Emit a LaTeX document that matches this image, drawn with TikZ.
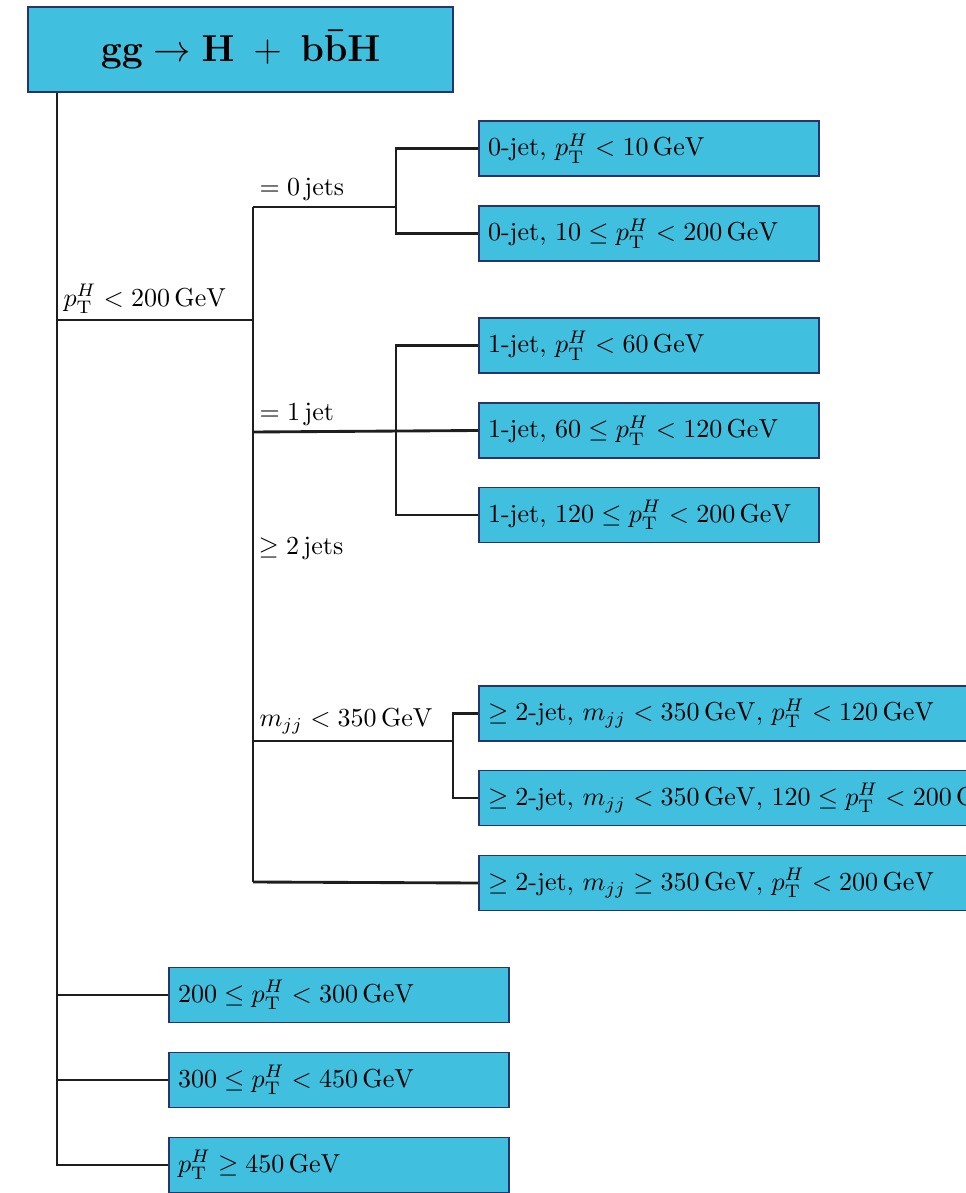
\documentclass[tikz,border=0pt]{standalone}
\usepackage{amsmath}
\usepackage{tikz}
\definecolor{catfill}{RGB}{64,192,222}
\definecolor{catline}{RGB}{40,52,112}
\definecolor{treeline}{HTML}{1E1E1E}

\tikzset{
  catbox/.style={draw=catline, fill=catfill, line width=0.7pt, anchor=west,
    minimum height=0.744cm, inner xsep=3.5pt, text width=4.6cm-7pt, align=left},
  widebox/.style={catbox, text width=9cm-7pt},
  cut/.style={font=\normalsize, inner sep=2pt},
  branch/.style={draw=treeline, line width=1.1pt}
}

\begin{document}
\begin{tikzpicture}[x=0.01352cm, y=-0.01352cm]
\useasboundingbox (0,0) rectangle (965,1193);

% root
\node[catbox, text width=5.75cm-7pt, minimum height=1.15cm, align=center] (root) at (27,49.5)
  {\Large$\mathbf{gg\rightarrow H\;+\;b\bar{b}H}$};

% junctions
\coordinate (j0) at (57,320);
\coordinate (j1) at (253,320);
\coordinate (z0) at (253,207);
\coordinate (z1) at (253,432);
\coordinate (z2) at (253,741);
\coordinate (z3) at (253,882);
\coordinate (s0) at (396,207);
\coordinate (s1) at (396,432);
\coordinate (s2) at (453,741);

% categories
\node[catbox] (b00) at (478,148.5) {0-jet$,\, p_{\mathrm{T}}^{H}<10\,\mathrm{GeV}$};
\node[catbox] (b01) at (478,233.5) {0-jet$,\, 10\leq p_{\mathrm{T}}^{H}<200\,\mathrm{GeV}$};
\node[catbox] (b10) at (478,345.5) {1-jet$,\, p_{\mathrm{T}}^{H}<60\,\mathrm{GeV}$};
\node[catbox] (b11) at (478,430.5) {1-jet$,\, 60\leq p_{\mathrm{T}}^{H}<120\,\mathrm{GeV}$};
\node[catbox] (b12) at (478,515) {1-jet$,\, 120\leq p_{\mathrm{T}}^{H}<200\,\mathrm{GeV}$};
\node[widebox] (b20) at (478,713.5) {$\geq 2$-jet$,\, m_{jj}<350\,\mathrm{GeV},\, p_{\mathrm{T}}^{H}<120\,\mathrm{GeV}$};
\node[widebox] (b21) at (478,798) {$\geq 2$-jet$,\, m_{jj}<350\,\mathrm{GeV},\, 120\leq p_{\mathrm{T}}^{H}<200\,\mathrm{GeV}$};
\node[widebox] (b22) at (478,883) {$\geq 2$-jet$,\, m_{jj}\geq 350\,\mathrm{GeV},\, p_{\mathrm{T}}^{H}<200\,\mathrm{GeV}$};
\node[catbox] (h1) at (168,995) {$200\leq p_{\mathrm{T}}^{H}<300\,\mathrm{GeV}$};
\node[catbox] (h2) at (168,1080) {$300\leq p_{\mathrm{T}}^{H}<450\,\mathrm{GeV}$};
\node[catbox] (h3) at (168,1165) {$p_{\mathrm{T}}^{H}\geq 450\,\mathrm{GeV}$};

% tree
\draw[branch] (root.south west -| j0) |- (h3.west);
\draw[branch] (h1.west -| j0) -- (h1.west);
\draw[branch] (h2.west -| j0) -- (h2.west);
\draw[branch] (j0) -- node[cut, pos=0, above right] {$p_{\mathrm{T}}^{H}<200\,\mathrm{GeV}$} (j1);
\draw[branch] (z0) -- (z3);
\draw[branch] (z0) -- node[cut, pos=0, above right] {$=0\,\mathrm{jets}$} (s0);
\draw[branch] (b00.west) -| (s0) |- (b01.west);
\draw[branch] (z1) -- node[cut, pos=0, above right] {$=1\,\mathrm{jet}$} (b11.west);
\draw[branch] (b10.west) -| (s1) |- (b12.west);
\node[cut, right] (ge2) at (253,548) {$\geq 2\,\mathrm{jets}$};
\draw[branch] (z2) -- node[cut, pos=0, above right] {$m_{jj}<350\,\mathrm{GeV}$} (s2);
\draw[branch] (b20.west) -| (s2) |- (b21.west);
\draw[branch] (z3) -- (b22.west);
\end{tikzpicture}
\end{document}
